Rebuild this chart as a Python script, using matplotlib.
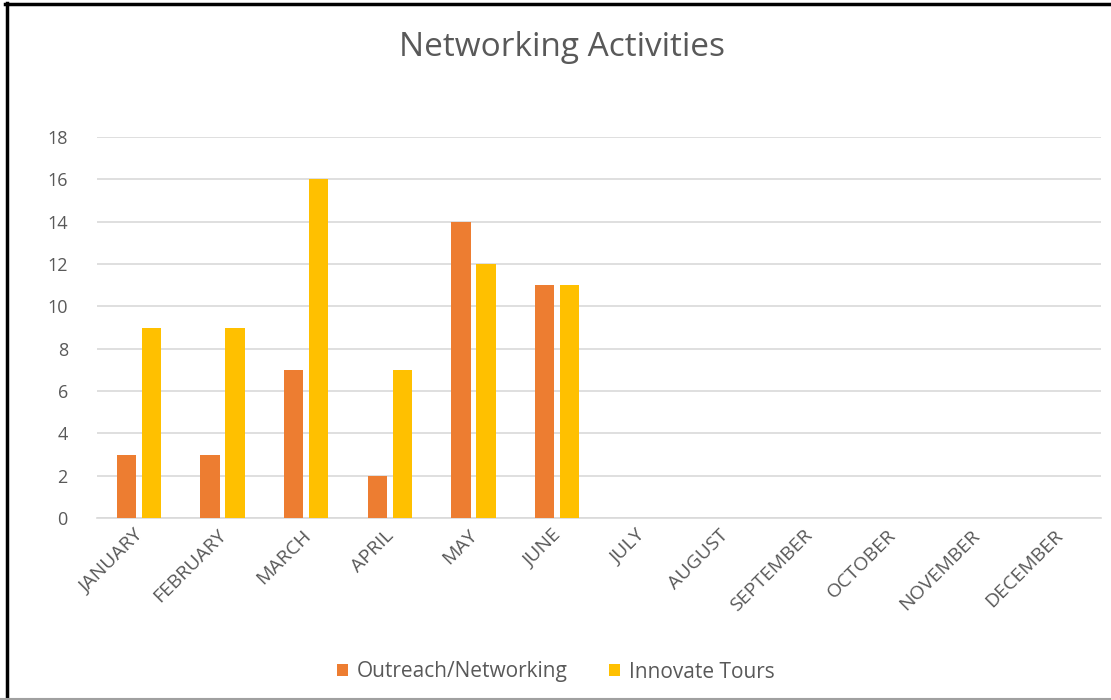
import matplotlib
matplotlib.use("Agg")
import matplotlib.pyplot as plt
from matplotlib.lines import Line2D
import matplotlib.transforms as mtransforms
import numpy as np

months = ["JANUARY", "FEBRUARY", "MARCH", "APRIL", "MAY", "JUNE",
          "JULY", "AUGUST", "SEPTEMBER", "OCTOBER", "NOVEMBER", "DECEMBER"]
outreach = [3, 3, 7, 2, 14, 11, 0, 0, 0, 0, 0, 0]
tours = [9, 9, 16, 7, 12, 11, 0, 0, 0, 0, 0, 0]
series_names = ["Outreach/Networking", "Innovate Tours"]
y_ticks = [0, 2, 4, 6, 8, 10, 12, 14, 16, 18]

plt.rcParams['font.family'] = ['Open Sans', 'DejaVu Sans']
text_color = "#595959"
orange = "#ED7D31"
yellow = "#FFC000"

fig = plt.figure(figsize=(11.11, 7.0), dpi=100)
ax = fig.add_axes([97 / 1111, (700 - 518) / 700, (1101 - 97) / 1111, (518 - 137) / 700])

x = np.arange(len(months))
w = 0.23
ax.bar(x - 0.15, outreach, width=w, color=orange, label=series_names[0], zorder=3)
ax.bar(x + 0.15, tours, width=w, color=yellow, label=series_names[1], zorder=3)

ax.set_xlim(-0.5, len(months) - 0.5)
ax.set_ylim(0, 18)
ax.set_yticks(y_ticks)
ax.yaxis.grid(True, color="#D9D9D9", linewidth=1.2, zorder=0)
ax.set_axisbelow(True)
for s in ["top", "right", "left"]:
    ax.spines[s].set_visible(False)
ax.spines["bottom"].set_color("#D9D9D9")
ax.spines["bottom"].set_linewidth(1.2)
ax.tick_params(axis="both", length=0, colors=text_color)
ax.tick_params(axis="y", pad=21, labelsize=13)
ax.set_xticks(x)
ax.set_xticklabels(months, rotation=45, ha="right", va="top",
                   rotation_mode="anchor", fontsize=14, color=text_color)
ax.tick_params(axis="x", pad=6)

# nudge the slanted month labels slightly left
shift = mtransforms.ScaledTranslation(-5 / 100, 0, fig.dpi_scale_trans)
for lbl in ax.get_xticklabels():
    lbl.set_transform(lbl.get_transform() + shift)

fig.text(0.506, 1 - 48 / 700, "Networking Activities", ha="center", va="center",
         fontsize=24, color=text_color)

fig.legend(loc="center", bbox_to_anchor=(0.5, 1 - 672 / 700), ncol=2, frameon=False,
           fontsize=15, labelcolor=text_color, handlelength=0.55, handleheight=0.55,
           handletextpad=0.4, columnspacing=2.0)

# frame edges around the chart
fig.add_artist(Line2D([6.5 / 1111, 6.5 / 1111], [0, 1 - 3 / 700], color="black",
                      linewidth=2.5, transform=fig.transFigure))
fig.add_artist(Line2D([5 / 1111, 1], [1 - 3.5 / 700, 1 - 3.5 / 700], color="black",
                      linewidth=2.5, transform=fig.transFigure))
fig.add_artist(Line2D([0, 1], [1 / 700, 1 / 700], color="#A0A0A0",
                      linewidth=1.5, transform=fig.transFigure))

fig.savefig("out.png", dpi=100, facecolor="white")
